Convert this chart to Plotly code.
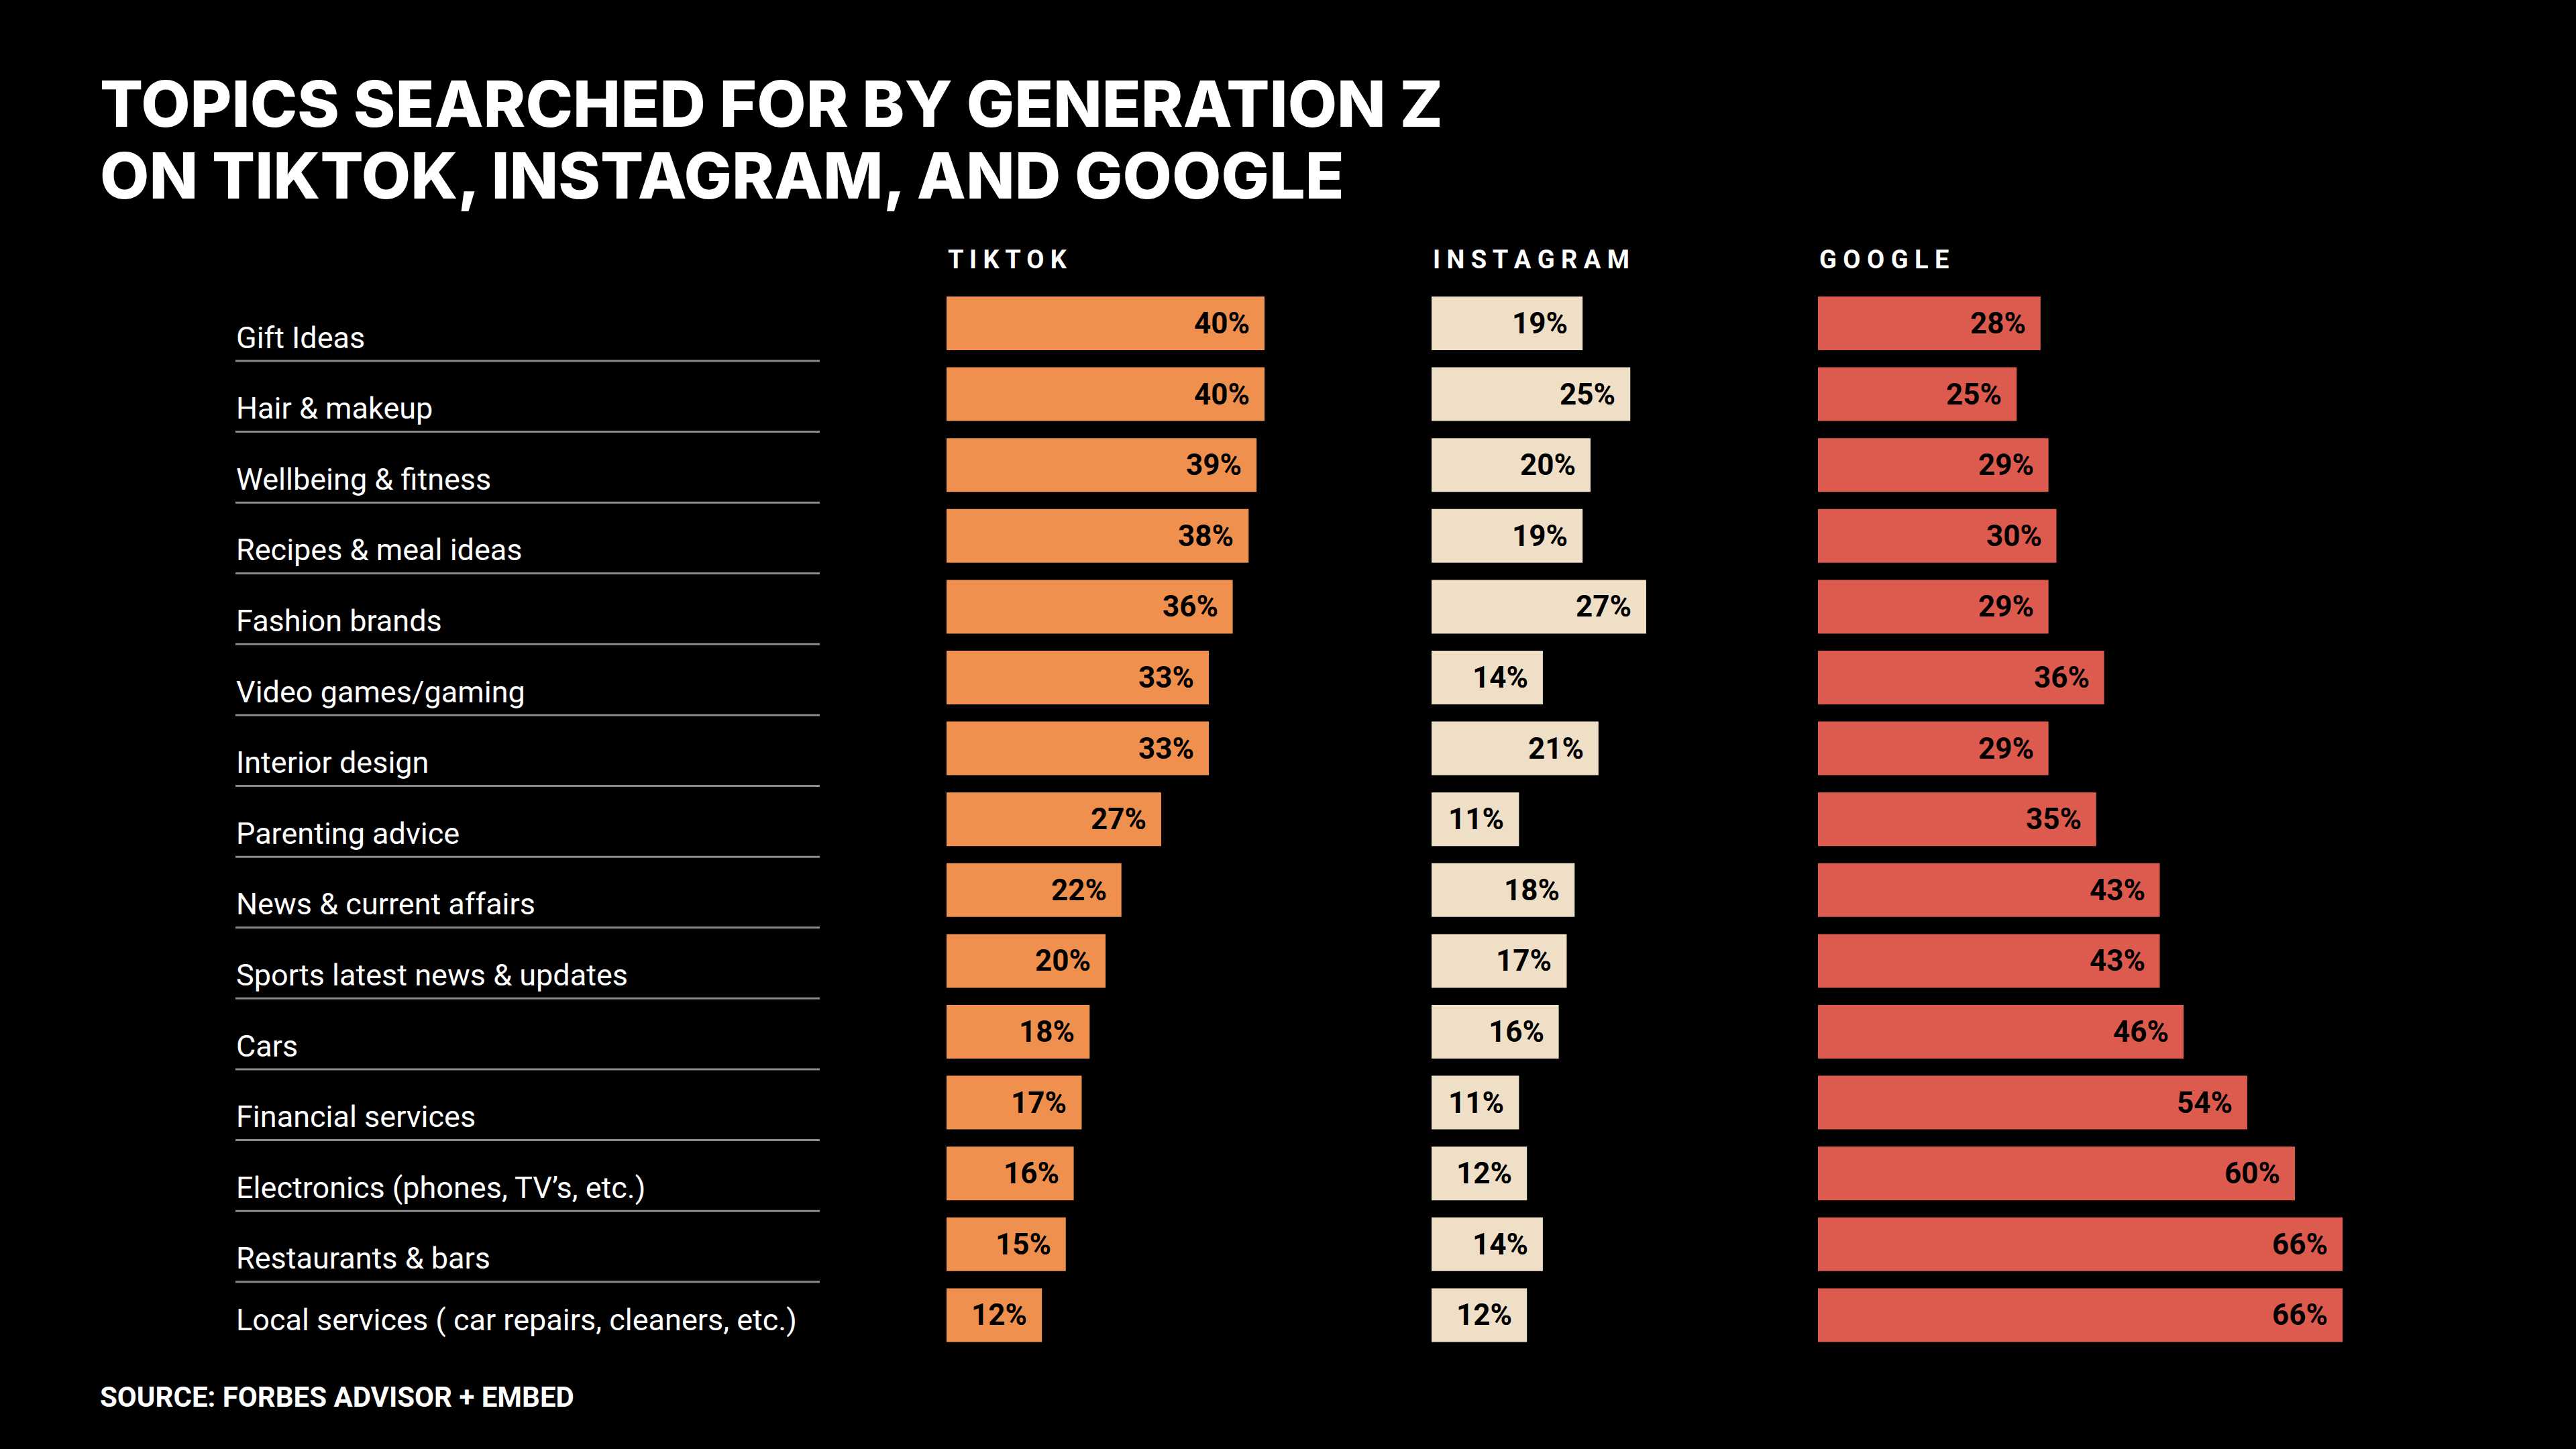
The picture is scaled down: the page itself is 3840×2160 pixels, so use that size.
import plotly.graph_objects as go

topics = [
    "Gift Ideas", "Hair & makeup", "Wellbeing & fitness", "Recipes & meal ideas",
    "Fashion brands", "Video games/gaming", "Interior design", "Parenting advice",
    "News & current affairs", "Sports latest news & updates", "Cars",
    "Financial services", "Electronics (phones, TV\u2019s, etc.)",
    "Restaurants & bars", "Local services ( car repairs, cleaners, etc.)",
]
tiktok = [40, 40, 39, 38, 36, 33, 33, 27, 22, 20, 18, 17, 16, 15, 12]
instagram = [19, 25, 20, 19, 27, 14, 21, 11, 18, 17, 16, 11, 12, 14, 12]
google = [28, 25, 29, 30, 29, 36, 29, 35, 43, 43, 46, 54, 60, 66, 66]
platforms = ["TIKTOK", "INSTAGRAM", "GOOGLE"]
title_lines = ["TOPICS SEARCHED FOR BY GENERATION Z", "ON TIKTOK, INSTAGRAM, AND GOOGLE"]
source = "SOURCE: FORBES ADVISOR + EMBED"

W, H = 3840, 2160
colors = ["#F0904F", "#F0DFC7", "#DD5B4E"]
series = [tiktok, instagram, google]
xaxes = ["x", "x2", "x3"]
PX_PER = 11.85
starts = [1411, 2134, 2710]
ranges = [45, 45, 70]

fig = go.Figure()
for vals, col, xa in zip(series, colors, xaxes):
    fig.add_trace(go.Bar(
        x=vals, y=topics, orientation="h", xaxis=xa, yaxis="y",
        marker=dict(color=col, line=dict(width=0)),
        hoverinfo="skip", showlegend=False,
    ))

layout = dict(
    width=W, height=H,
    paper_bgcolor="#000000", plot_bgcolor="#000000",
    margin=dict(l=0, r=0, t=0, b=0),
    bargap=0.2424,
    yaxis=dict(type="category", categoryorder="array", categoryarray=topics,
               range=[14.5, -0.5], domain=[1 - 2013.2 / H, 1 - 429.2 / H],
               visible=False, fixedrange=True),
)
for i, (xa, st, rg) in enumerate(zip(xaxes, starts, ranges)):
    key = "xaxis" if i == 0 else f"xaxis{i+1}"
    layout[key] = dict(domain=[st / W, (st + PX_PER * rg) / W], range=[0, rg],
                       visible=False, anchor="y", fixedrange=True)
fig.update_layout(**layout)

ann = []
# Title
for line, yc in zip(title_lines, [154, 261]):
    ann.append(dict(text=line, x=147 / W, y=1 - yc / H, xref="paper", yref="paper",
                    xanchor="left", yanchor="middle", showarrow=False,
                    font=dict(family="Inter", size=95, color="white", weight=800)))
# Platform headers
for name, st in zip(platforms, starts):
    ann.append(dict(text=" ".join(name), x=st / W, y=1 - 386.5 / H, xref="paper", yref="paper",
                    xanchor="left", yanchor="middle", showarrow=False,
                    font=dict(family="Roboto", size=38, color="white", weight=700)))
# Row labels
for i, t in enumerate(topics):
    ann.append(dict(text=t, x=350 / W, y=t, xref="paper", yref="y",
                    xanchor="left", yanchor="middle", showarrow=False,
                    yshift=-7 if i == len(topics) - 1 else -21,
                    font=dict(family="Roboto", size=45, color="white", weight=400)))
# Value labels
for vals, xa in zip(series, xaxes):
    for t, v in zip(topics, vals):
        ann.append(dict(text=f"{v}%", x=v, y=t, xref=xa, yref="y",
                        xanchor="right", yanchor="middle", xshift=-20, showarrow=False,
                        font=dict(family="Roboto", size=44, color="black", weight=700)))
# Source
ann.append(dict(text=source, x=147 / W, y=1 - 2082 / H, xref="paper", yref="paper",
                xanchor="left", yanchor="middle", showarrow=False,
                font=dict(family="Roboto", size=42, color="white", weight=700)))
fig.update_layout(annotations=ann)

shapes = []
for i in range(len(topics) - 1):
    shapes.append(dict(type="line", xref="paper", yref="y", x0=351 / W, x1=1222 / W,
                       y0=i + 0.53, y1=i + 0.53, line=dict(color="#8A8A8A", width=3)))
fig.update_layout(shapes=shapes)

fig.write_html(
    "out.html",
    config={"displayModeBar": False},
    post_script="document.body.style.margin='0';document.body.style.background='#000';",
)
